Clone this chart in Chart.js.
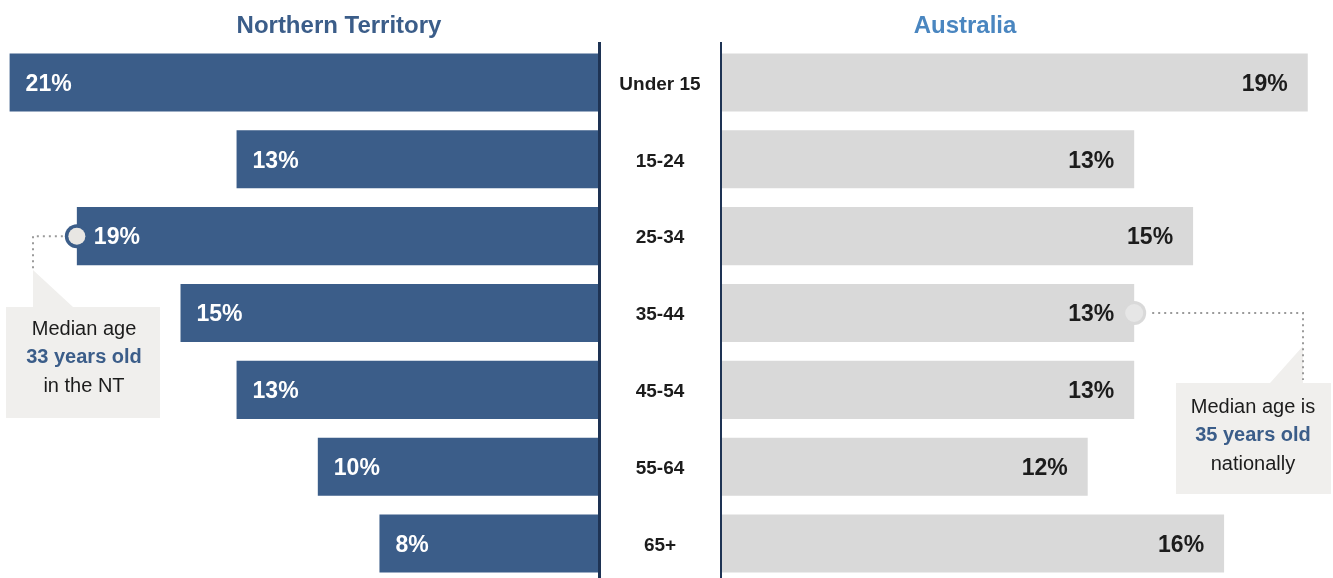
<!DOCTYPE html>
<html><head><meta charset="utf-8">
<script src="https://cdn.jsdelivr.net/npm/chart.js@4/dist/chart.umd.min.js"></script>
<style>
html,body{margin:0;padding:0;background:#fff;overflow:hidden;width:1333px;height:578px;}
#wl{position:absolute;left:0;top:0;width:720px;height:582px;}
#wr{position:absolute;left:720px;top:0;width:613px;height:582px;}
</style></head><body>
<div id="wl"><canvas id="cl"></canvas></div>
<div id="wr"><canvas id="cr"></canvas></div>
<script>
const categories = ['Under 15','15-24','25-34','35-44','45-54','55-64','65+'];
const ntValues = [21.0, 12.9, 18.6, 14.9, 12.9, 10.0, 7.8];
const ntLabels = ['21%','13%','19%','15%','13%','10%','8%'];
const auValues = [18.9, 13.3, 15.2, 13.3, 13.3, 11.8, 16.2];
const auLabels = ['19%','13%','15%','13%','13%','12%','16%'];
const titles = ['Northern Territory','Australia'];
const ntNote = ['Median age','33 years old','in the NT'];
const auNote = ['Median age is','35 years old','nationally'];
const ntMedianIndex = 2, auMedianIndex = 3;

const FONT = '"Liberation Sans", Arial, sans-serif';
const NAVY = '#3b5d89', GREY = '#d9d9d9', AXIS = '#1e3354', TXT = '#1c1c1c';
const BOX = '#f0efed', DOT = '#9a9a9a';

function dotted(ctx, pts){
  ctx.save();
  ctx.strokeStyle = DOT; ctx.lineWidth = 2; ctx.setLineDash([2,4]);
  ctx.beginPath(); ctx.moveTo(pts[0][0], pts[0][1]);
  for (let i=1;i<pts.length;i++) ctx.lineTo(pts[i][0], pts[i][1]);
  ctx.stroke(); ctx.restore();
}
function note(ctx, lines, cx, ys){
  ctx.save();
  ctx.textAlign='center'; ctx.textBaseline='middle';
  lines.forEach((t,i)=>{
    ctx.font = (i===1?'bold ':'') + '20px ' + FONT;
    ctx.fillStyle = i===1 ? NAVY : TXT;
    ctx.fillText(t, cx, ys[i]);
  });
  ctx.restore();
}

const leftPlugin = {
  id:'leftDeco',
  afterDatasetsDraw(chart){
    const ctx = chart.ctx, bars = chart.getDatasetMeta(0).data;
    ctx.save();
    ctx.fillStyle = AXIS; ctx.fillRect(598, 42, 3, chart.height);
    ctx.font = 'bold 24px ' + FONT; ctx.fillStyle = NAVY; ctx.textAlign='center'; ctx.textBaseline='middle';
    ctx.fillText(titles[0], 339, 26);
    ctx.font = 'bold 19px ' + FONT; ctx.fillStyle = TXT;
    bars.forEach((b,i)=> ctx.fillText(categories[i], 660, b.y + 2));
    const m = bars[ntMedianIndex];
    dotted(ctx, [[m.x - 14, m.y],[33, m.y],[33, 270]]);
    ctx.fillStyle = BOX;
    ctx.beginPath(); ctx.moveTo(33,270); ctx.lineTo(33,307); ctx.lineTo(73,307); ctx.closePath(); ctx.fill();
    ctx.fillRect(6, 307, 154, 111);
    note(ctx, ntNote, 84, [329, 357, 386]);
    ctx.fillStyle = NAVY; ctx.beginPath(); ctx.arc(m.x, m.y, 12, 0, Math.PI*2); ctx.fill();
    ctx.fillStyle = '#e8e6e3'; ctx.beginPath(); ctx.arc(m.x, m.y, 8.5, 0, Math.PI*2); ctx.fill();
    ctx.font = 'bold 23px ' + FONT; ctx.fillStyle = '#ffffff'; ctx.textAlign='left';
    bars.forEach((b,i)=> ctx.fillText(ntLabels[i], b.x + (i===ntMedianIndex?17:16), b.y + 2));
    ctx.restore();
  }
};

const rightPlugin = {
  id:'rightDeco',
  afterDatasetsDraw(chart){
    const ctx = chart.ctx, bars = chart.getDatasetMeta(0).data;
    ctx.save();
    ctx.fillStyle = AXIS; ctx.fillRect(0, 42, 2, chart.height);
    ctx.font = 'bold 24px ' + FONT; ctx.fillStyle = '#4a86c0'; ctx.textAlign='center'; ctx.textBaseline='middle';
    ctx.fillText(titles[1], 245, 26);
    const m = bars[auMedianIndex];
    ctx.fillStyle = BOX;
    ctx.beginPath(); ctx.moveTo(583,346); ctx.lineTo(583,383); ctx.lineTo(550,383); ctx.closePath(); ctx.fill();
    ctx.fillRect(456, 383, 155, 111);
    dotted(ctx, [[m.x + 18, m.y],[583, m.y],[583, 380]]);
    note(ctx, auNote, 533, [407, 435, 464]);
    ctx.fillStyle = GREY; ctx.beginPath(); ctx.arc(m.x, m.y, 12, 0, Math.PI*2); ctx.fill();
    ctx.fillStyle = '#e6e6e6'; ctx.beginPath(); ctx.arc(m.x, m.y, 9, 0, Math.PI*2); ctx.fill();
    ctx.font = 'bold 23px ' + FONT; ctx.fillStyle = TXT; ctx.textAlign='right';
    bars.forEach((b,i)=> ctx.fillText(auLabels[i], b.x - 20, b.y + 2));
    ctx.restore();
  }
};

function baseOpts(xScale, padding){
  return {
    indexAxis:'y', responsive:true, maintainAspectRatio:false, animation:false, devicePixelRatio:1,
    layout:{padding},
    plugins:{legend:{display:false}, tooltip:{enabled:false}, title:{display:false}},
    scales:{ x: Object.assign({display:false, min:0}, xScale), y:{display:false} }
  };
}

new Chart(document.getElementById('cl'), {
  type:'bar',
  data:{labels:categories, datasets:[{data:ntValues, backgroundColor:NAVY, borderWidth:0, barPercentage:1, categoryPercentage:0.756}]},
  options: baseOpts({reverse:true, max:21.2}, {left:4, right:122, top:44, bottom:0}),
  plugins:[leftPlugin]
});
new Chart(document.getElementById('cr'), {
  type:'bar',
  data:{labels:categories, datasets:[{data:auValues, backgroundColor:GREY, borderWidth:0, barPercentage:1, categoryPercentage:0.756}]},
  options: baseOpts({max:19.65}, {left:2, right:2, top:44, bottom:0}),
  plugins:[rightPlugin]
});
</script>
</body></html>
